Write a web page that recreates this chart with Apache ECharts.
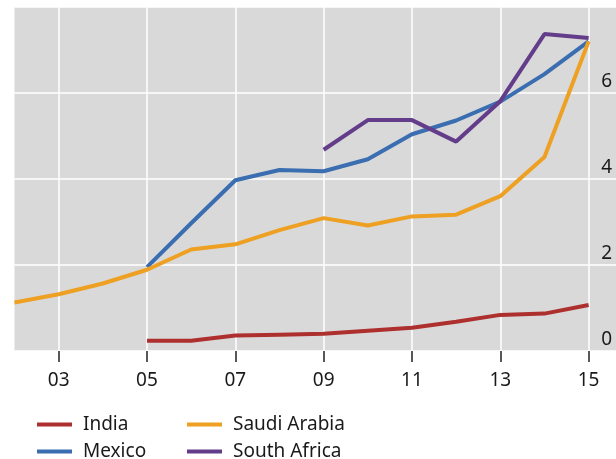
<!DOCTYPE html>
<html>
<head>
<meta charset="utf-8">
<script src="https://cdn.jsdelivr.net/npm/echarts@6/dist/echarts.min.js"></script>
<style>
  html, body { margin: 0; padding: 0; background: #fff; }
  #main { width: 616px; height: 459px; }
</style>
</head>
<body>
<div id="main"></div>
<script>
var chartDom = document.getElementById('main');
var myChart = echarts.init(chartDom);
var option;

// Datos
var years = [2002, 2003, 2004, 2005, 2006, 2007, 2008, 2009, 2010, 2011, 2012, 2013, 2014, 2015];
var india = [null, null, null, 0.24, 0.24, 0.36, 0.38, 0.40, 0.47, 0.54, 0.68, 0.84, 0.87, 1.07];
var mexico = [null, null, null, 1.95, 2.97, 3.97, 4.21, 4.18, 4.46, 5.04, 5.36, 5.80, 6.44, 7.20];
var saudiArabia = [1.13, 1.32, 1.57, 1.89, 2.36, 2.48, 2.81, 3.09, 2.92, 3.13, 3.17, 3.60, 4.51, 7.20];
var southAfrica = [null, null, null, null, null, null, null, 4.68, 5.37, 5.37, 4.87, 5.81, 7.37, 7.28];
var xTicks = [2003, 2005, 2007, 2009, 2011, 2013, 2015];

var colors = {
    'India': '#ad302e',
    'Mexico': '#3a6eb1',
    'Saudi Arabia': '#eea022',
    'South Africa': '#633d8a'
};

var font = 'Noto Sans';

function pairs(values) {
    return years.map(function (y, i) { return [y, values[i]]; });
}

function makeSeries(name, values) {
    return {
        name: name,
        type: 'line',
        data: pairs(values),
        showSymbol: false,
        symbol: 'none',
        connectNulls: false,
        lineStyle: { width: 4, color: colors[name] },
        itemStyle: { color: colors[name] },
        silent: true
    };
}

// una leyenda por elemento, en dos columnas
function makeLegend(name, left, top) {
    return {
        left: left,
        top: top,
        itemWidth: 35,
        itemHeight: 4,
        icon: 'rect',
        selectedMode: false,
        textStyle: { fontFamily: font, fontSize: 19, color: '#1a1a1a', padding: [0, 0, 0, 6] },
        data: [name]
    };
}

option = {
    animation: false,
    grid: {
        left: 14.5,
        right: 0,
        top: 7,
        bottom: 108,
        show: true,
        backgroundColor: '#d9d9d9',
        borderWidth: 0
    },
    legend: [
        makeLegend('India', 32, 410),
        makeLegend('Mexico', 32, 437),
        makeLegend('Saudi Arabia', 182, 410),
        makeLegend('South Africa', 182, 437)
    ],
    xAxis: {
        type: 'value',
        min: 2002,
        max: 2015.62,
        axisLine: { show: false },
        axisTick: {
            show: true,
            length: 11,
            customValues: xTicks,
            lineStyle: { color: '#222', width: 1.5 }
        },
        axisLabel: {
            customValues: xTicks,
            margin: 20,
            fontFamily: font,
            fontSize: 19,
            color: '#1a1a1a',
            formatter: function (v) { return String(v).slice(2); }
        },
        splitLine: { show: true, lineStyle: { color: '#ffffff', width: 1.5 } }
    },
    yAxis: {
        type: 'value',
        position: 'right',
        min: 0,
        max: 8,
        interval: 2,
        axisLine: { show: false },
        axisTick: { show: false },
        axisLabel: {
            inside: true,
            margin: 4,
            showMaxLabel: false,
            verticalAlign: 'bottom',
            padding: [0, 0, 2, 0],
            fontFamily: font,
            fontSize: 19,
            color: '#1a1a1a'
        },
        splitLine: { show: true, lineStyle: { color: '#ffffff', width: 1.5 } }
    },
    series: [
        makeSeries('India', india),
        makeSeries('Mexico', mexico),
        makeSeries('Saudi Arabia', saudiArabia),
        makeSeries('South Africa', southAfrica)
    ]
};

option && myChart.setOption(option);
</script>
</body>
</html>
